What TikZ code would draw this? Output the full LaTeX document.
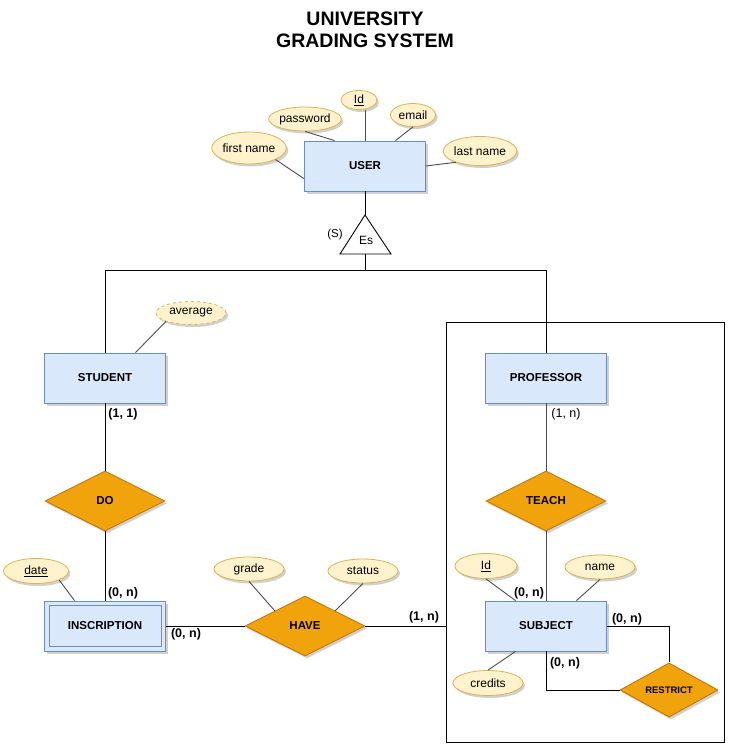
\documentclass[tikz,border=0pt]{standalone}
\usepackage{fontspec}
\setmainfont{Liberation Sans}
\usetikzlibrary{shapes.geometric,shadows,calc}
\definecolor{entfill}{HTML}{DAE8FC}
\definecolor{entdraw}{HTML}{6C8EBF}
\definecolor{attfill}{HTML}{FFF2CC}
\definecolor{attdraw}{HTML}{D6B656}
\definecolor{relfill}{HTML}{F0A30A}
\definecolor{reldraw}{HTML}{BD7000}
\definecolor{attline}{HTML}{4D4D4D}
\begin{document}
\begin{tikzpicture}[x=1pt,y=-1pt,
 shad/.style={drop shadow={shadow xshift=2pt,shadow yshift=-2.5pt,opacity=0.3,fill=black!60}},
 entity/.style={rectangle,fill=entfill,draw=entdraw,line width=0.8pt,minimum width=121pt,minimum height=50pt,inner sep=0pt,font=\fontsize{11.5}{13}\selectfont\bfseries,shad},
 attr/.style={ellipse,fill=attfill,draw=attdraw,line width=0.8pt,inner sep=0pt,font=\fontsize{12}{14}\selectfont,shad},
 rel/.style={diamond,fill=relfill,draw=reldraw,line width=0.8pt,inner sep=0pt,minimum width=120pt,minimum height=60pt,font=\fontsize{11.5}{13}\selectfont\bfseries,shad},
 card/.style={font=\fontsize{12.5}{14}\selectfont\bfseries,inner sep=0pt},
 cardn/.style={font=\fontsize{12.5}{14}\selectfont,inner sep=0pt},
 aline/.style={draw=attline,line width=0.9pt},
 rline/.style={draw=black,line width=0.9pt},
 pline/.style={draw=black!70,line width=0.9pt},
 titlefont/.style={font=\fontsize{19.5}{22}\selectfont\bfseries,inner sep=0pt,anchor=base},
]
\useasboundingbox[fill=white] (0,0) rectangle (736,753);

% title
\node[titlefont] (title1) at (365,25) {UNIVERSITY};
\node[titlefont] (title2) at (365,47.5) {GRADING SYSTEM};

% big box
\draw[line width=0.9pt] (446,322) rectangle (724,742);

% entities
\node[entity] (USER) at (365,166) {USER};
\node[entity] (STUDENT) at (105,378) {STUDENT};
\node[entity] (PROF) at (546,378) {PROFESSOR};
\node[entity] (SUBJ) at (546,626) {SUBJECT};
\node[entity] (INS) at (105,626) {INSCRIPTION};
\draw[entdraw,line width=0.8pt] ($(INS.south west)+(5,-5)$) rectangle ($(INS.north east)+(-5,5)$);

% relationships
\node[rel] (DO) at (105,501) {DO};
\node[rel] (TEACH) at (546,501) {TEACH};
\node[rel] (HAVE) at (305,626) {HAVE};
\node[rel,minimum width=98pt,minimum height=48pt,font=\fontsize{9.5}{11}\selectfont\bfseries] (RESTRICT) at (669,690) {RESTRICT};

% attributes
\node[attr,minimum width=36pt,minimum height=19pt] (uid) at (359,100) {\underline{Id}};
\node[attr,minimum width=70pt,minimum height=24pt] (pwd) at (305,119) {password};
\node[attr,minimum width=45pt,minimum height=23pt] (email) at (413,115) {email};
\node[attr,minimum width=72pt,minimum height=32pt] (fname) at (249,148) {first name};
\node[attr,minimum width=70pt,minimum height=29pt] (lname) at (480,151) {last name};
\node[attr,minimum width=70pt,minimum height=23pt,dashed] (avg) at (191,313) {average};
\node[attr,minimum width=65pt,minimum height=25pt] (date) at (36,571) {\underline{date}};
\node[attr,minimum width=70pt,minimum height=24pt] (grade) at (249,569) {grade};
\node[attr,minimum width=70pt,minimum height=24pt] (status) at (363,571) {status};
\node[attr,minimum width=62pt,minimum height=25pt] (sid) at (486,566) {\underline{Id}};
\node[attr,minimum width=70pt,minimum height=24pt] (sname) at (600,567) {name};
\node[attr,minimum width=70pt,minimum height=25pt] (credits) at (488,683) {credits};

% specialisation triangle
\coordinate (trTop) at (365,215);
\coordinate (trL) at (340,254);
\coordinate (trR) at (391,254);
\coordinate (trB) at (365,254);
\coordinate (bar) at (365,270.5);
\draw[line width=0.9pt,fill=white] (trTop) -- (trR) -- (trL) -- cycle;
\node[font=\fontsize{12}{14}\selectfont,inner sep=0pt] (Es) at (366,240) {Es};
\node[font=\fontsize{11.5}{13}\selectfont,inner sep=0pt] (S) at (335,235) {(S)};

\draw[rline] (USER.south) -- (trTop);
\draw[rline] (trB) -- (bar);
\draw[rline] (STUDENT.north) |- (bar) -| (PROF.north);

% attribute lines
\draw[aline] (uid.south -| USER.north) -- (USER.north);
\draw[aline] (pwd.south) -- ($(USER.north west)!0.25!(USER.north east)$);
\draw[aline] (email.south) -- ($(USER.north west)!0.75!(USER.north east)$);
\draw[aline] (fname.south east) -- ($(USER.north west)!0.75!(USER.south west)$);
\draw[aline] (lname.205) -- (USER.east);
\draw[aline] (avg.south west) -- ($(STUDENT.north west)!0.75!(STUDENT.north east)$);
\draw[aline] (date.south east) -- ($(INS.north west)!0.25!(INS.north east)$);
\draw[aline] (grade.south) -- ($(HAVE.west)!0.5!(HAVE.north)$);
\draw[aline] (status.south) -- ($(HAVE.north)!0.5!(HAVE.east)$);
\draw[aline] (sid.south) -- ($(SUBJ.north west)!0.25!(SUBJ.north east)$);
\draw[aline] (sname.south) -- ($(SUBJ.north west)!0.75!(SUBJ.north east)$);
\draw[aline] (credits.north) -- ($(SUBJ.south west)!0.25!(SUBJ.south east)$);

% relationship lines
\coordinate (boxW) at (446,626);
\draw[rline] (STUDENT.south) -- (DO.north);
\draw[rline] (DO.south) -- (INS.north);
\draw[rline] (INS.east) -- (HAVE.west);
\draw[rline] (HAVE.east) -- (boxW);
\draw[pline] (PROF.south) -- (TEACH.north);
\draw[pline] (TEACH.south) -- (SUBJ.north);
\draw[rline] (SUBJ.east) -| (RESTRICT.north);
\draw[rline] (SUBJ.south) |- (RESTRICT.west);

% cardinalities
\node[card] (c1) at (123,414) {(1, 1)};
\node[cardn] (c2) at (566,414) {(1, n)};
\node[card] (c3) at (123,593) {(0, n)};
\node[card] (c4) at (186,634) {(0, n)};
\node[card] (c5) at (424,617) {(1, n)};
\node[card] (c6) at (529,593) {(0, n)};
\node[card] (c7) at (627,619) {(0, n)};
\node[card] (c8) at (565,663) {(0, n)};
\end{tikzpicture}
\end{document}
